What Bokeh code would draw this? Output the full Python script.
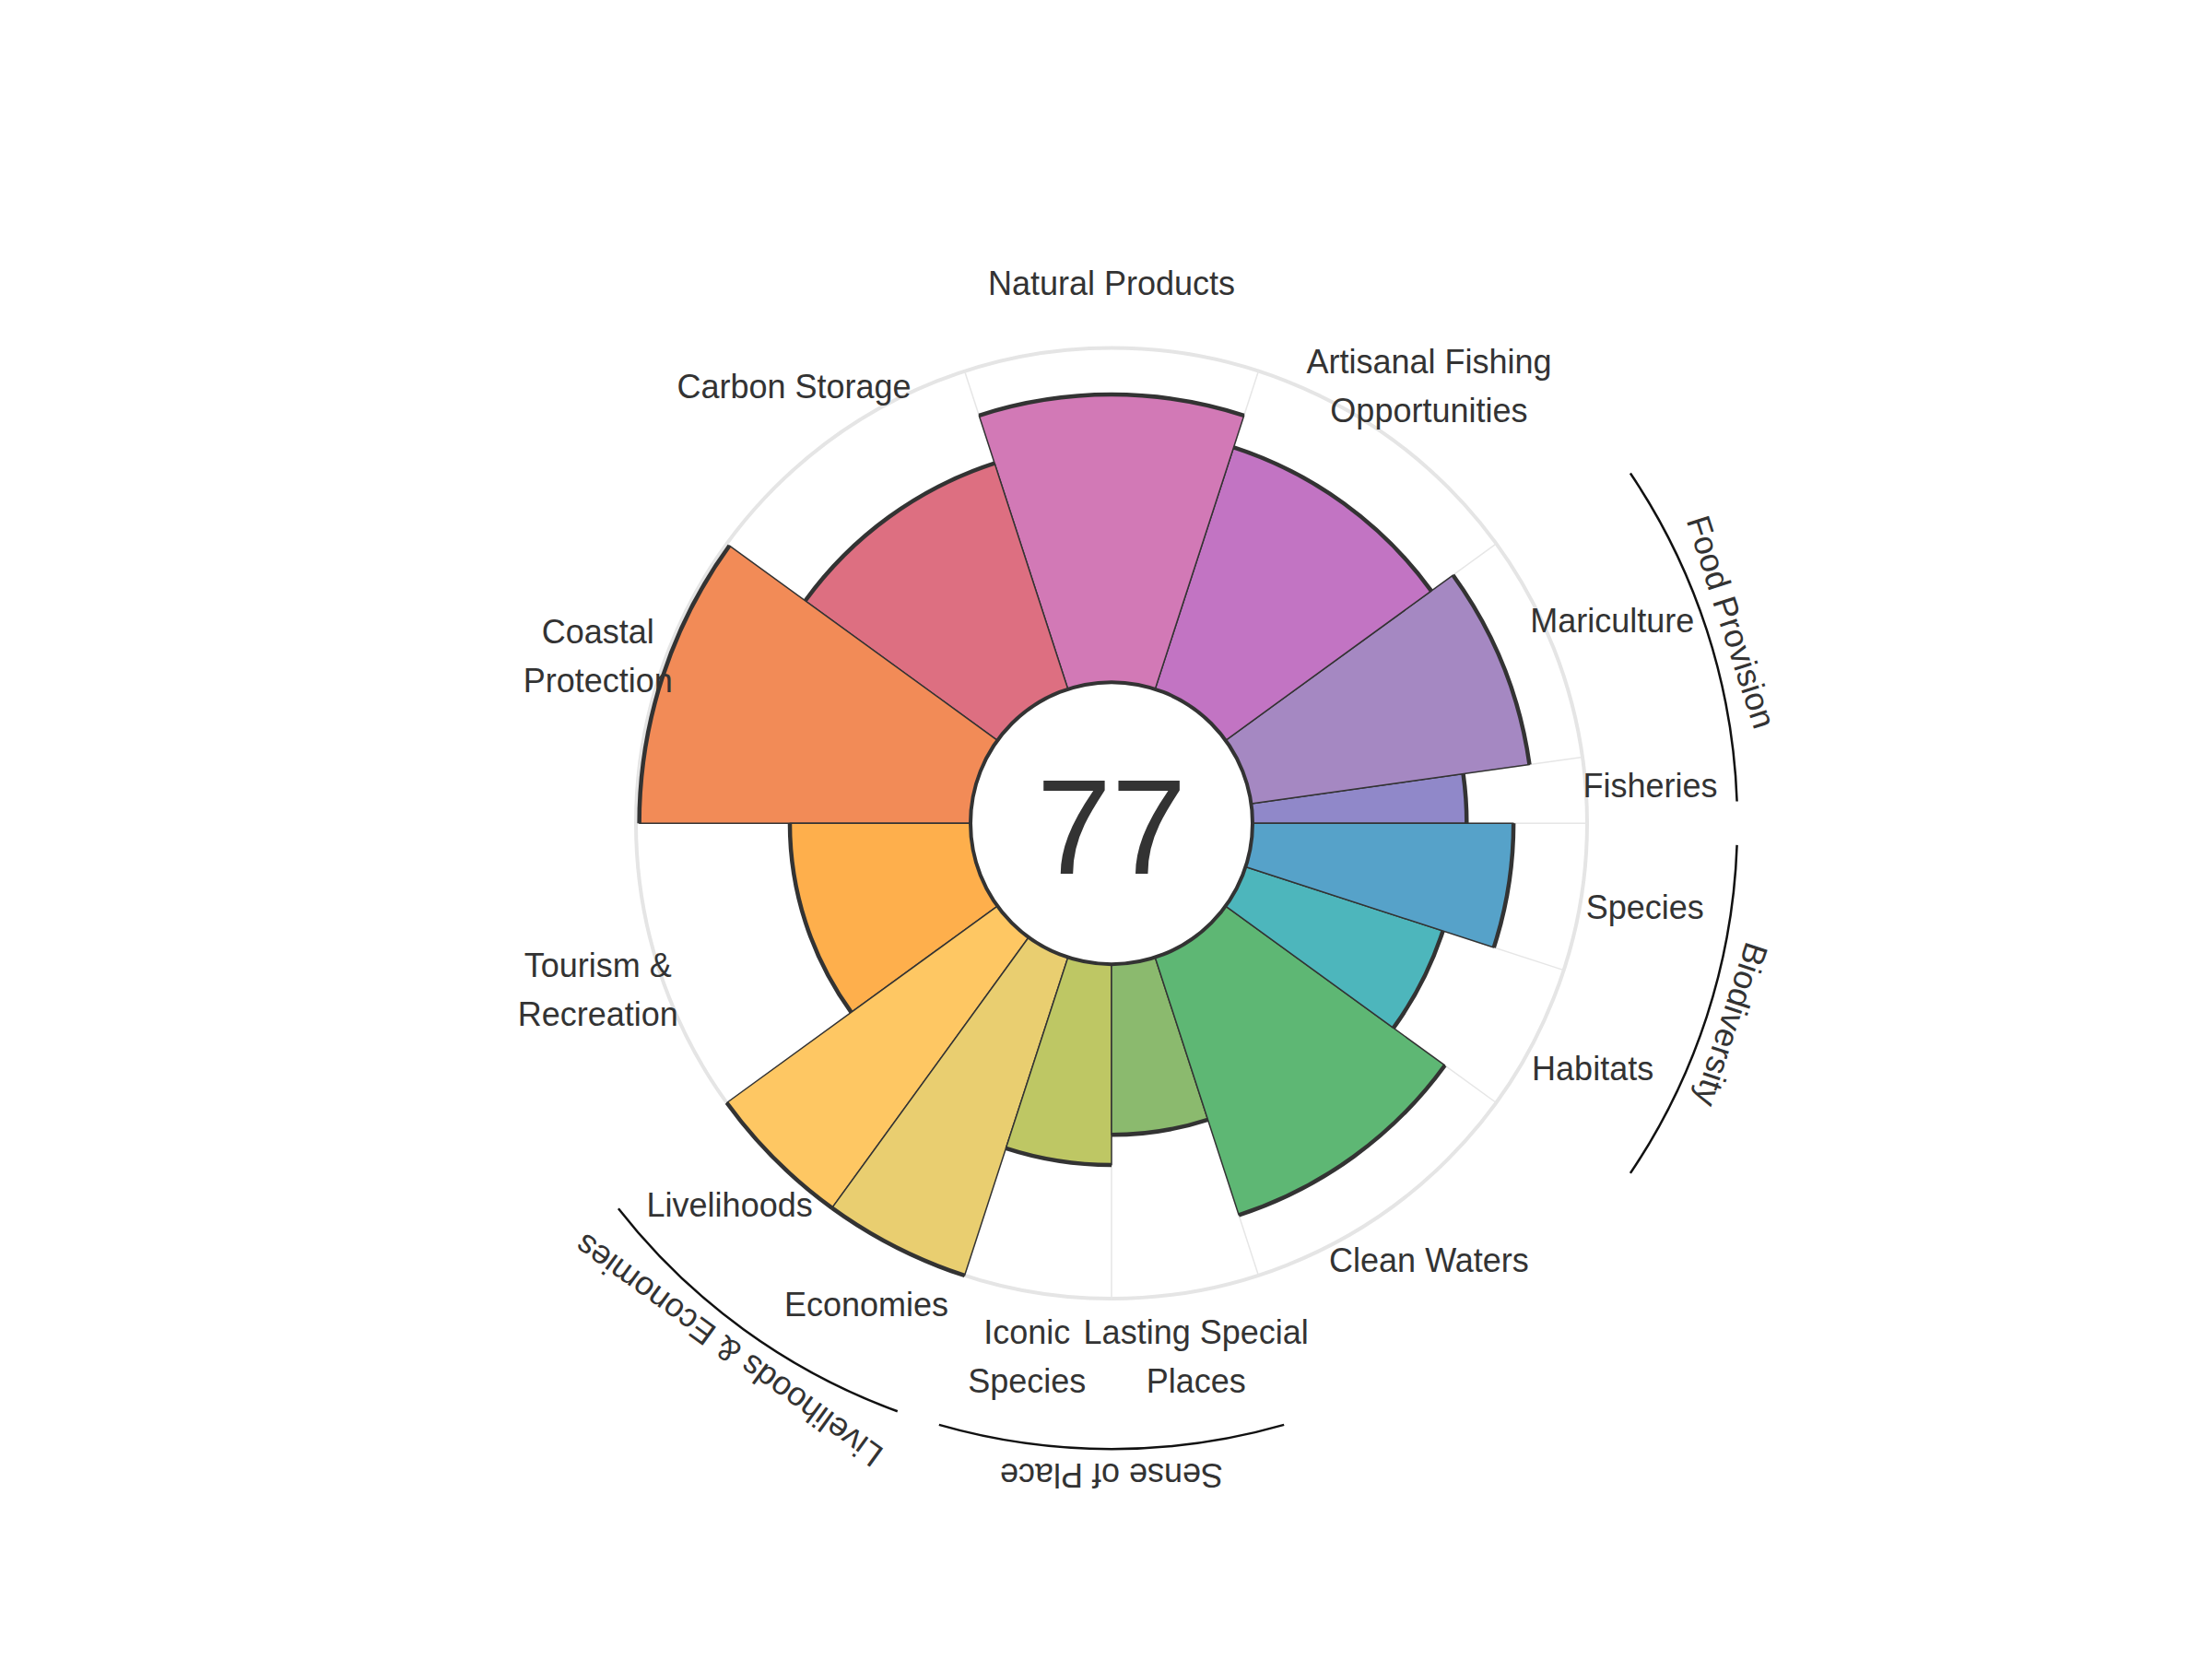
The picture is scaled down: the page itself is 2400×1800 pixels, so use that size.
import numpy as np
from bokeh.plotting import figure
from bokeh.models import Range1d
from bokeh.core.properties import value
from bokeh.embed import file_html
from bokeh.resources import INLINE

# ---- data ----
goals = ["Fisheries", "Mariculture", "Artisanal Fishing\nOpportunities", "Natural Products",
         "Carbon Storage", "Coastal\nProtection", "Tourism &\nRecreation", "Livelihoods",
         "Economies", "Iconic\nSpecies", "Lasting Special\nPlaces", "Clean Waters",
         "Habitats", "Species"]
scores = [64, 84, 76, 86, 71, 99, 54, 100, 100, 60, 51, 81, 62, 78]
weights = [0.222, 0.778, 1, 1, 1, 1, 1, 0.5, 0.5, 0.5, 0.5, 1, 0.5, 0.5]
colors = ["#9088C9", "#A588C2", "#C274C3", "#D279B6", "#DD6F81", "#F28B57", "#FEAF4C",
          "#FEC763", "#E9CE70", "#BEC764", "#8BBA6E", "#5EB774", "#4DB6BC", "#56A2C9"]
index_score = 77
groups = ["Food Provision", "Biodiversity", "Livelihoods & Economies", "Sense of Place"]
group_members = [(0, 1), (12, 13), (7, 8), (9, 10)]

# ---- geometry ----
W, H = 2400, 1800
cx, cy = 1205.5, 892.7
r_in, R = 153.0, 516.0
label_r = 586.0
arc_r = 679.0
glabel_r = 707.0
gap = np.deg2rad(2.0)

w = np.array(weights, dtype=float)
spans = w / w.sum() * 2 * np.pi
ends = np.cumsum(spans)
starts = ends - spans
mids = (starts + ends) / 2
r_out = r_in + (R - r_in) * np.array(scores) / 100.0

p = figure(width=W, height=H, output_backend="svg", toolbar_location=None,
           x_range=Range1d(-cx, W - cx), y_range=Range1d(-(H - cy), cy),
           min_border=0, outline_line_color=None, background_fill_color="white",
           border_fill_color="white")
p.axis.visible = False
p.grid.visible = False

# background ring and spokes
p.circle(x=[0], y=[0], radius=R, fill_color=None, line_color="#e5e5e5", line_width=4)
p.segment(x0=r_in * np.cos(starts), y0=r_in * np.sin(starts),
          x1=R * np.cos(starts), y1=R * np.sin(starts),
          line_color="#e6e6e6", line_width=1.5)

# petals
p.annular_wedge(x=0, y=0, inner_radius=r_in, outer_radius=list(r_out),
                start_angle=list(starts), end_angle=list(ends),
                fill_color=colors, line_color="#333333", line_width=1.5)
p.arc(x=0, y=0, radius=list(r_out), start_angle=list(starts), end_angle=list(ends),
      line_color="#333333", line_width=4.5)

# inner circle and score
p.circle(x=[0], y=[0], radius=r_in, fill_color="white", line_color="#333333", line_width=4)
p.text(x=[0], y=[-4], text=[str(index_score)], text_font=value("Liberation Sans"),
       text_font_size="146px", text_align="center", text_baseline="middle",
       text_color="#333333")

# petal labels
p.text(x=list(label_r * np.cos(mids)), y=list(label_r * np.sin(mids)), text=goals,
       text_font=value("Liberation Sans"), text_font_size="36px", text_align="center",
       text_baseline="middle", text_color="#333333", text_line_height=1.3)

# group arcs and labels
for name, (a, b) in zip(groups, group_members):
    s, e = starts[a], ends[b]
    p.arc(x=0, y=0, radius=arc_r, start_angle=s + gap, end_angle=e - gap,
          line_color="#111111", line_width=2.5)
    m = (s + e) / 2
    p.text(x=[glabel_r * np.cos(m)], y=[glabel_r * np.sin(m)], text=[name],
           angle=m - np.pi / 2, text_font=value("Liberation Sans"), text_font_size="36px",
           text_align="center", text_baseline="alphabetic", text_color="#333333")

open("out.html", "w").write(file_html(p, INLINE))
